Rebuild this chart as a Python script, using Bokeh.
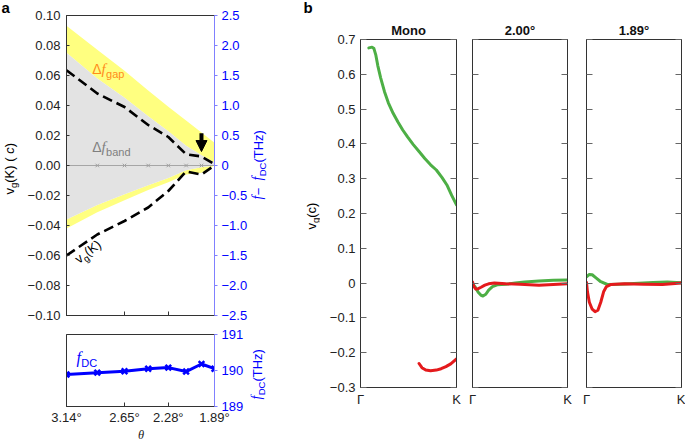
import math
from bokeh.plotting import figure
from bokeh.models import (Range1d, LinearAxis, FixedTicker, CustomJSTickFormatter,
                          Label, Arrow, NormalHead)
from bokeh.layouts import row, column
from bokeh.embed import file_html
from bokeh.resources import INLINE

# ---------------- data: panel a ----------------
theta = [3.14, 2.88, 2.65, 2.45, 2.28, 2.13, 2.00, 1.89]
gap_upper_thz = [2.33, 1.93, 1.58, 1.25, 0.98, 0.75, 0.55, 0.38]
band_upper_thz = [1.88, 1.45, 1.13, 0.82, 0.57, 0.33, 0.17, 0.05]
band_lower_thz = [-0.90, -0.66, -0.48, -0.33, -0.21, -0.08, -0.03, 0.0]
gap_lower_thz = [-1.05, -0.78, -0.58, -0.41, -0.28, -0.15, -0.12, 0.0]
vg_upper = [0.0635, 0.048, 0.039, 0.027, 0.019, 0.0075, 0.006, 0.001]
vg_lower = [-0.060, -0.046, -0.037, -0.028, -0.017, -0.004, -0.006, 0.0]
band_mark_theta = [2.88, 2.65, 2.45, 2.28, 2.13, 2.00]
band_mark_f = [0, 0, 0, 0, 0, 0]
arrow_theta = 2.00
arrow_from_vg = 0.0215
arrow_to_vg = 0.0093
f_dc = [189.89, 189.94, 189.98, 190.05, 190.08, 189.97, 190.18, 190.05]

vg_ticks = [-0.10, -0.08, -0.06, -0.04, -0.02, 0.00, 0.02, 0.04, 0.06, 0.08, 0.10]
thz_ticks = [-2.5, -2.0, -1.5, -1.0, -0.5, 0.0, 0.5, 1.0, 1.5, 2.0, 2.5]
fdc_ticks = [189, 190, 191]
theta_ticks = [3.14, 2.65, 2.28, 1.89]

# ---------------- data: panel b ----------------
panel_titles = ["Mono", "2.00°", "1.89°"]
k_ticks = [0, 1]
k_labels = ["Γ", "K"]
vgb_ticks = [-0.3, -0.2, -0.1, 0.0, 0.1, 0.2, 0.3, 0.4, 0.5, 0.6, 0.7]

mono_green_k = [0.087, 0.12, 0.14, 0.16, 0.18, 0.21, 0.25, 0.29, 0.34, 0.39, 0.44, 0.49,
                0.55, 0.61, 0.67, 0.73, 0.79, 0.85, 0.90, 0.95, 1.00]
mono_green_v = [0.676, 0.678, 0.674, 0.655, 0.625, 0.590, 0.550, 0.518, 0.488, 0.463, 0.440,
                0.420, 0.398, 0.378, 0.358, 0.340, 0.325, 0.303, 0.282, 0.252, 0.225]
mono_red_k = [0.61, 0.64, 0.68, 0.73, 0.79, 0.84, 0.89, 0.94, 1.00]
mono_red_v = [-0.231, -0.243, -0.250, -0.252, -0.250, -0.246, -0.240, -0.232, -0.218]

t200_green_k = [0.00, 0.03, 0.06, 0.09, 0.11, 0.14, 0.17, 0.21, 0.26, 0.35, 0.45, 0.55, 0.70, 0.85, 1.00]
t200_green_v = [-0.002, -0.012, -0.026, -0.035, -0.037, -0.032, -0.020, -0.010, -0.005, -0.003,
                0.000, 0.003, 0.006, 0.008, 0.009]
t200_red_k = [0.00, 0.015, 0.035, 0.06, 0.09, 0.13, 0.17, 0.23, 0.35, 0.50, 0.70, 0.85, 1.00]
t200_red_v = [0.003, -0.010, -0.017, -0.016, -0.012, -0.006, -0.002, 0.000, -0.002, -0.003,
              -0.006, -0.004, -0.002]

t189_green_k = [0.00, 0.03, 0.06, 0.10, 0.15, 0.22, 0.35, 0.50, 0.70, 0.85, 1.00]
t189_green_v = [0.018, 0.025, 0.024, 0.015, 0.004, -0.004, -0.003, -0.001, 0.002, 0.003, 0.001]
t189_red_k = [0.00, 0.01, 0.03, 0.06, 0.09, 0.12, 0.15, 0.18, 0.21, 0.26, 0.40, 0.60, 0.80, 1.00]
t189_red_v = [0.002, -0.025, -0.055, -0.075, -0.082, -0.078, -0.055, -0.025, -0.010, -0.004,
              -0.002, -0.003, -0.004, 0.000]

# ---------------- styling ----------------
SANS = "Liberation Sans"
SERIF = "Liberation Serif"
YELLOW = "#ffff80"
GRAY = "#e3e3e3"
BLUE = "#0000ff"
BLUE_LINE = "#8080ff"
GREEN = "#4daf45"
RED = "#e41a1c"
ORANGE = "#ff8c1a"
TICK_FS = "13px"

W_SANS = {' ': 0.278, '(': 0.333, ')': 0.333, 'K': 0.667, 'c': 0.5, 'v': 0.5, 'g': 0.556,
          'a': 0.556, 'p': 0.556, 'b': 0.556, 'n': 0.556, 'd': 0.556, 'D': 0.722, 'C': 0.722,
          'T': 0.611, 'H': 0.722, 'z': 0.5, '−': 0.584, 'Δ': 0.668}
W_SERIF = {'f': 0.30, 'θ': 0.5}
BASE_FIX = 0.4   # anchor correction (fraction of font size) so glyphs sit on the wanted baseline


def text_width(txt, size, fam):
    table = W_SERIF if fam == SERIF else W_SANS
    return sum(table.get(ch, 0.556) for ch in txt) * size


def make_conv(L, R, T, B, x0, x1, y0, y1):
    def conv(px, py):
        X = x0 + (px - L) / (R - L) * (x1 - x0)
        Y = y0 + (B - py) / (B - T) * (y1 - y0)
        return X, Y
    return conv


def rich(fig, conv, pieces, x, y, angle_deg, color):
    a = math.radians(angle_deg)
    ux, uy = math.cos(a), -math.sin(a)
    dx, dy = math.sin(a), math.cos(a)
    adv = 0.0
    for (txt, size, fam, style, shift) in pieces:
        s = shift - BASE_FIX * size
        px = x + adv * ux + s * dx
        py = y + adv * uy + s * dy
        X, Y = conv(px, py)
        fig.add_layout(Label(x=X, y=Y, text=txt, angle=a, text_font=fam,
                             text_font_size=f"{size}px", text_font_style=style,
                             text_color=color, text_align="left",
                             text_baseline="alphabetic"))
        adv += text_width(txt, size, fam)


EMPTY = "return '';"


def style_axis(ax, ticks, fmt_code=None, tick_in=0, tick_out=0, color="#222222",
               line_color="#333333", label_size=TICK_FS, standoff=5, tick_color=None,
               labels=True):
    ax.ticker = FixedTicker(ticks=ticks)
    if not labels:
        ax.formatter = CustomJSTickFormatter(code=EMPTY)
        ax.major_label_text_color = None
        ax.major_label_text_font_size = "1px"
        ax.major_label_standoff = 0
    else:
        if fmt_code is not None:
            ax.formatter = CustomJSTickFormatter(code=fmt_code)
        ax.major_label_text_color = color
        ax.major_label_text_font_size = label_size
        ax.major_label_standoff = standoff
    ax.major_tick_in = tick_in
    ax.major_tick_out = tick_out
    ax.minor_tick_line_color = None
    ax.axis_line_color = line_color
    ax.major_tick_line_color = tick_color if tick_color else line_color
    ax.major_label_text_font = SANS


FMT2 = "if (Math.abs(tick) < 1e-9) return '0.00'; return tick < 0 ? '\u2212' + (-tick).toFixed(2) : tick.toFixed(2);"
FMT1 = "if (Math.abs(tick) < 1e-9) return '0'; return tick < 0 ? '\u2212' + (-tick).toFixed(1) : tick.toFixed(1);"
FMT0 = "return tick.toFixed(0);"
FMTDEG = "return tick.toFixed(2) + '\u00b0';"

# ---------------- layout geometry (page pixels) ----------------
H = 441
LA_W = 24                       # strip left of panel a (letter + y label)
A_W, A_BL, A_BR = 226, 42, 35   # panel a plots
RA_W = 38                       # strip right of panel a (blue labels)
LB_W = 32                       # strip left of panel b (letter + y label)
A1_H, A1_BT, A1_BB = 322, 15, 7
A2_H, A2_BT, A2_BB = 105, 12, 20
TH_H = H - A1_H - A2_H          # strip under panel a (theta label)
B_BT, B_BB = 39, 54
b_specs = [(144, 40, 8), (113, 8, 10), (108, 9, 4)]

X_A = LA_W
X_RA = LA_W + A_W
X_LB = X_RA + RA_W


def strip(width, height=H, x_range=None, bl=0, br=0):
    f = figure(width=width, height=height,
               x_range=x_range if x_range is not None else Range1d(0, width),
               y_range=Range1d(0, height),
               output_backend="svg", toolbar_location=None,
               x_axis_location=None, y_axis_location=None,
               min_border=0, min_border_left=bl, min_border_right=br,
               min_border_top=0, min_border_bottom=0)
    f.outline_line_color = None
    f.grid.visible = False
    return f


def strip_conv(x0, y0=0, height=H):
    return make_conv(x0, x0 + 1, y0, y0 + height, 0, 1, 0, height)


# ---------------- panel a (top) ----------------
pa = figure(width=A_W, height=A1_H, x_range=Range1d(3.14, 1.89), y_range=Range1d(-0.1, 0.1),
            output_backend="svg", toolbar_location=None,
            min_border_left=A_BL, min_border_right=A_BR, min_border_top=A1_BT,
            min_border_bottom=A1_BB)
pa.extra_y_ranges = {"thz": Range1d(-2.5, 2.5)}
pa.grid.visible = False
pa.outline_line_color = "#333333"

pa.varea(x=theta, y1=band_upper_thz, y2=gap_upper_thz, y_range_name="thz", fill_color=YELLOW)
pa.varea(x=theta, y1=gap_lower_thz, y2=band_lower_thz, y_range_name="thz", fill_color=YELLOW)
pa.varea(x=theta, y1=band_lower_thz, y2=band_upper_thz, y_range_name="thz", fill_color=GRAY)
pa.line(x=theta, y=[0] * len(theta), y_range_name="thz", line_color="#a6a6a6", line_width=1)
pa.scatter(x=band_mark_theta, y=band_mark_f, y_range_name="thz", marker="x", size=5,
           line_color="#a0a0a0", line_width=1)
pa.line(x=theta, y=vg_upper, line_color="black", line_width=2.6, line_dash="10 5")
pa.line(x=theta, y=vg_lower, line_color="black", line_width=2.6, line_dash="10 5")
pa.add_layout(Arrow(end=NormalHead(size=11, fill_color="black", line_color="black"),
                    x_start=arrow_theta, y_start=arrow_from_vg, x_end=arrow_theta,
                    y_end=arrow_to_vg, line_width=4, line_color="black"))

style_axis(pa.yaxis[0], vg_ticks, FMT2, tick_in=3, standoff=6)
style_axis(pa.xaxis[0], theta_ticks, None, tick_in=4, labels=False)
right_ax = LinearAxis(y_range_name="thz")
style_axis(right_ax, thz_ticks, FMT1, tick_out=3, color=BLUE, line_color=BLUE_LINE, standoff=4)
pa.add_layout(right_ax, "right")

conv_a = make_conv(X_A + A_BL, X_A + A_W - A_BR, A1_BT, A1_H - A1_BB, 3.14, 1.89, -0.1, 0.1)
rich(pa, conv_a, [("Δ", 14, SANS, "normal", 0), ("f", 15, SERIF, "italic", 0),
                  ("gap", 11, SANS, "normal", 4)], 92, 74, 0, ORANGE)
rich(pa, conv_a, [("Δ", 14, SANS, "normal", 0), ("f", 15, SERIF, "italic", 0),
                  ("band", 11, SANS, "normal", 4)], 92, 152, 0, "#7f7f7f")
rich(pa, conv_a, [("v", 13, SANS, "normal", 0), ("g", 9.5, SANS, "normal", 3),
                  (" (K)", 13, SANS, "normal", 0)], 79, 264, 37, "black")

# ---------------- panel a (bottom) ----------------
pb = figure(width=A_W, height=A2_H, x_range=pa.x_range, y_range=Range1d(189, 191),
            output_backend="svg", toolbar_location=None,
            min_border_left=A_BL, min_border_right=A_BR, min_border_top=A2_BT,
            min_border_bottom=A2_BB)
pb.grid.visible = False
pb.outline_line_color = "#333333"
pb.line(x=theta, y=f_dc, line_color=BLUE, line_width=3)
pb.scatter(x=theta, y=f_dc, marker="x", size=8, line_color=BLUE, line_width=2.5)
style_axis(pb.yaxis[0], [], None, labels=False)
style_axis(pb.xaxis[0], theta_ticks, FMTDEG, tick_in=4, standoff=3)
rb = LinearAxis()
style_axis(rb, fdc_ticks, FMT0, tick_out=3, color=BLUE, line_color=BLUE_LINE, standoff=4)
pb.add_layout(rb, "right")

conv_b = make_conv(X_A + A_BL, X_A + A_W - A_BR, A1_H + A2_BT, A1_H + A2_H - A2_BB,
                   3.14, 1.89, 189, 191)
rich(pb, conv_b, [("f", 16, SERIF, "italic", 0), ("DC", 11, SANS, "normal", 3)], 76, 364, 0, BLUE)

# theta axis title strip (frame aligned with panel a's frame)
s_th = strip(A_W, TH_H, x_range=pa.x_range, bl=A_BL, br=A_BR)
c_th = make_conv(X_A + A_BL, X_A + A_W - A_BR, A1_H + A2_H, H, 3.14, 1.89, TH_H, 0)
rich(s_th, c_th, [("θ", 12.5, SERIF, "italic", 0)], 138, 438.5, 0, "#222222")

# ---------------- strips with outer labels ----------------
s_la = strip(LA_W)
c_la = strip_conv(0)
rich(s_la, c_la, [("a", 15, SANS, "bold", 0)], 1, 13, 0, "black")
rich(s_la, c_la, [("v", 13, SANS, "normal", 0), ("g", 9.5, SANS, "normal", 3),
                  (" (K) (", 13, SANS, "normal", 0), ("c", 13, SANS, "italic", 0),
                  (")", 13, SANS, "normal", 0)], 14, 194, 90, "black")

s_ra = strip(RA_W)
c_ra = strip_conv(X_RA)
rich(s_ra, c_ra, [("f", 14, SERIF, "italic", 0), (" − ", 13, SANS, "normal", 0),
                  ("f", 14, SERIF, "italic", 0), ("DC", 9.5, SANS, "normal", 3),
                  (" (THz)", 13, SANS, "normal", 0)], 263, 199, 90, BLUE)
rich(s_ra, c_ra, [("f", 14, SERIF, "italic", 0), ("DC", 9.5, SANS, "normal", 3),
                  (" (THz)", 13, SANS, "normal", 0)], 262, 399, 90, BLUE)

s_lb = strip(LB_W)
c_lb = strip_conv(X_LB)
rich(s_lb, c_lb, [("b", 15, SANS, "bold", 0)], 303, 13, 0, "black")
rich(s_lb, c_lb, [("v", 13, SANS, "normal", 0), ("g", 9.5, SANS, "normal", 3),
                  (" (c)", 13, SANS, "normal", 0)], 316, 229, 90, "black")

# ---------------- panel b ----------------
curves = [
    [(mono_green_k, mono_green_v, GREEN), (mono_red_k, mono_red_v, RED)],
    [(t200_green_k, t200_green_v, GREEN), (t200_red_k, t200_red_v, RED)],
    [(t189_green_k, t189_green_v, GREEN), (t189_red_k, t189_red_v, RED)],
]
KFMT = "return tick < 0.5 ? labels[0] : labels[1];"
figs_b = []
for i, (w, bl, br) in enumerate(b_specs):
    f = figure(width=w, height=H, x_range=Range1d(0, 1), y_range=Range1d(-0.3, 0.7),
               output_backend="svg", toolbar_location=None,
               min_border_left=bl, min_border_right=br, min_border_top=B_BT,
               min_border_bottom=B_BB)
    f.grid.visible = False
    f.outline_line_color = "#333333"
    f.title.text = panel_titles[i]
    f.title.align = "center"
    f.title.text_font = SANS
    f.title.text_font_size = "13px"
    f.title.text_font_style = "bold"
    f.title.text_color = "#111111"
    f.title.standoff = 4
    for (kk, vv, col) in curves[i]:
        f.line(x=kk, y=vv, line_color=col, line_width=3, line_join="round", line_cap="round")
    style_axis(f.yaxis[0], vgb_ticks, FMT1, tick_in=6, standoff=5, tick_color="#666666",
               labels=(i == 0))
    ra = LinearAxis()
    style_axis(ra, vgb_ticks, None, tick_in=6, tick_color="#666666", labels=False)
    f.add_layout(ra, "right")
    style_axis(f.xaxis[0], k_ticks, None, standoff=4)
    f.xaxis[0].formatter = CustomJSTickFormatter(args=dict(labels=k_labels), code=KFMT)
    figs_b.append(f)

layout = row(column(s_la), column(pa, pb, s_th), column(s_ra), column(s_lb), row(*figs_b))
open("out.html", "w").write(file_html(layout, INLINE))
